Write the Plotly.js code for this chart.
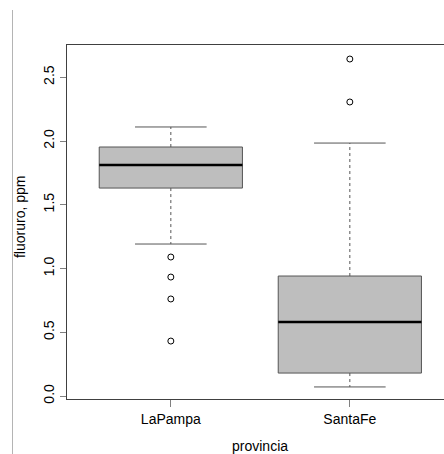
<!DOCTYPE html>
<html>
<head>
<meta charset="utf-8">
<script src="https://cdn.plot.ly/plotly-3.0.1.min.js"></script>
<style>html,body{margin:0;padding:0;background:#fff;}#chart{width:444px;height:454px;}</style>
</head>
<body>
<div id="chart"></div>
<script>
// ---- data ----
const provincias = ['LaPampa', 'SantaFe'];
const xPos = [1, 2];
const q1 = [1.631, 0.180];
const medians = [1.812, 0.580];
const q3 = [1.953, 0.941];
const lowerWhisker = [1.192, 0.071];
const upperWhisker = [2.110, 1.984];
const outliers = [
  [1.090, 0.933, 0.761, 0.431],
  [2.643, 2.306]
];
const yTickVals = [0, 0.5, 1, 1.5, 2, 2.5];
const yTickText = ['0.0', '0.5', '1.0', '1.5', '2.0', '2.5'];

// ---- styling ----
const FONT = 'Liberation Sans, Arial, Helvetica, sans-serif';
const boxHalf = 0.4, capHalf = 0.2;
const traces = [];

xPos.forEach((c, i) => {
  // whiskers (dashed)
  traces.push({
    type: 'scatter', mode: 'lines', hoverinfo: 'skip', showlegend: false,
    x: [c, c, null, c, c],
    y: [q3[i], upperWhisker[i], null, q1[i], lowerWhisker[i]],
    line: { color: '#555555', width: 1, dash: '3px,3px' }
  });
  // caps
  traces.push({
    type: 'scatter', mode: 'lines', hoverinfo: 'skip', showlegend: false,
    x: [c - capHalf, c + capHalf, null, c - capHalf, c + capHalf],
    y: [upperWhisker[i], upperWhisker[i], null, lowerWhisker[i], lowerWhisker[i]],
    line: { color: '#555555', width: 1 }
  });
  // box
  traces.push({
    type: 'scatter', mode: 'lines', hoverinfo: 'skip', showlegend: false,
    x: [c - boxHalf, c + boxHalf, c + boxHalf, c - boxHalf, c - boxHalf],
    y: [q1[i], q1[i], q3[i], q3[i], q1[i]],
    fill: 'toself', fillcolor: '#bebebe',
    line: { color: '#555555', width: 1 }
  });
  // median
  traces.push({
    type: 'scatter', mode: 'lines', hoverinfo: 'skip', showlegend: false,
    x: [c - boxHalf, c + boxHalf],
    y: [medians[i], medians[i]],
    line: { color: '#000000', width: 2.5 }
  });
  // outliers
  traces.push({
    type: 'scatter', mode: 'markers', showlegend: false,
    x: outliers[i].map(() => c),
    y: outliers[i],
    marker: { symbol: 'circle-open', size: 6, color: '#000000', line: { width: 1, color: '#000000' } }
  });
});

const layout = {
  width: 444, height: 454,
  margin: { l: 67, r: 0, t: 45, b: 55, pad: 0 },
  paper_bgcolor: '#ffffff', plot_bgcolor: '#ffffff',
  font: { family: FONT, size: 14, color: '#000000' },
  showlegend: false,
  xaxis: {
    range: [0.42, 2.526], showgrid: false, zeroline: false,
    showline: true, mirror: true, linecolor: '#404040', linewidth: 1,
    ticks: 'outside', ticklen: 7, tickcolor: '#808080', tickwidth: 1,
    tickvals: xPos, ticktext: provincias,
    tickfont: { family: FONT, size: 14, color: '#000000' }
  },
  yaxis: {
    range: [-0.0235, 2.753], showgrid: false, zeroline: false,
    showline: true, mirror: false, linecolor: '#404040', linewidth: 1,
    ticks: 'outside', ticklen: 6, tickcolor: '#808080', tickwidth: 1,
    tickvals: yTickVals, ticktext: yTickText, tickangle: -90,
    tickfont: { family: FONT, size: 14, color: '#000000' }
  },
  annotations: [
    { text: 'provincia', xref: 'x', yref: 'paper', x: 1.5, y: -0.134,
      xanchor: 'center', yanchor: 'middle', showarrow: false,
      font: { family: FONT, size: 14, color: '#000000' } },
    { text: 'fluoruro, ppm', xref: 'paper', yref: 'paper', x: (20 - 67) / 377, y: 0.514,
      xanchor: 'center', yanchor: 'middle', textangle: -90, showarrow: false,
      font: { family: FONT, size: 14, color: '#000000' } }
  ],
  shapes: [
    { type: 'line', xref: 'paper', yref: 'paper',
      x0: (12.5 - 67) / 377, x1: (12.5 - 67) / 377, y0: (399 - 10) / 354, y1: (399 - 454) / 354,
      line: { color: '#b4b4b4', width: 1 } }
  ]
};

Plotly.newPlot('chart', traces, layout, { displayModeBar: false, staticPlot: true });
</script>
</body>
</html>
